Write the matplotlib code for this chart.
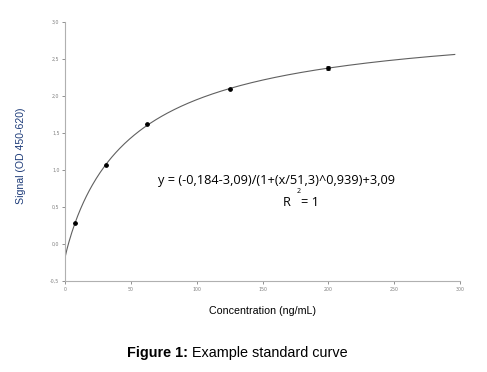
import numpy as np
import matplotlib.pyplot as plt
from matplotlib.ticker import FuncFormatter

# standards
conc = [7.8, 31.25, 62.5, 125, 200]
signal = [0.28, 1.07, 1.62, 2.09, 2.38]
signal_err = [0.0, 0.0, 0.0, 0.0, 0.03]

# 4PL fit parameters (from the equation on the chart)
a, d, c, b = -0.184, 3.09, 51.3, 0.939

xticks = [0, 50, 100, 150, 200, 250, 300]
yticks = [-0.5, 0.0, 0.5, 1.0, 1.5, 2.0, 2.5, 3.0]

fig = plt.figure(figsize=(4.87, 3.72), dpi=100)
ax = fig.add_axes([0.1335, 0.2446, 0.8111, 0.6964])

xc = np.linspace(0, 296, 400)
yc = (a - d) / (1 + (xc / c) ** b) + d
ax.plot(xc, yc, color='#606060', lw=0.8)
ax.errorbar(conc, signal, yerr=signal_err, fmt='o', ms=2.4, color='black',
            ecolor='#404040', elinewidth=0.6, capsize=1.3, capthick=0.6)

ax.set_xlim(0, 300)
ax.set_ylim(-0.5, 3.0)
ax.set_xticks(xticks)
ax.set_yticks(yticks)
ax.yaxis.set_major_formatter(FuncFormatter(lambda v, p: f'{v:.1f}'.replace('.', ',')))
ax.tick_params(labelsize=3.4, colors='#808080', length=2, width=0.6, pad=2)
for s in ['top', 'right']:
    ax.spines[s].set_visible(False)
for s in ['left', 'bottom']:
    ax.spines[s].set_color('#b0b0b0')
    ax.spines[s].set_linewidth(0.8)

# fit equation
eq_font = dict(fontsize=9.2, family='Open Sans', va='center', ha='left', transform=ax.transAxes)
ax.text(0.235, 0.389, 'y = (-0,184-3,09)/(1+(x/51,3)^0,939)+3,09', **eq_font)
ax.text(0.55, 0.302, 'R', **eq_font)
ax.text(0.586, 0.347, '2', fontsize=5, family='Open Sans', va='center', ha='left',
        transform=ax.transAxes)
ax.text(0.598, 0.302, '= 1', **eq_font)

fig.text(0.043, 0.581, 'Signal (OD 450-620)', rotation=90, fontsize=7.6,
         color='#1f3d7a', ha='center', va='center', family='Liberation Sans')
fig.text(0.54, 0.163, 'Concentration (ng/mL)', fontsize=7.7, ha='center', va='center',
         family='Liberation Sans')
t1 = fig.text(127 / 487, 0.051, 'Figure 1:', fontsize=10.4, fontweight='bold',
              ha='left', va='center', family='Liberation Sans')
ax.annotate(' Example standard curve', xy=(1, 0.5), xycoords=t1, va='center', ha='left',
            fontsize=10.4, family='Liberation Sans', annotation_clip=False)

fig.savefig('out.png', dpi=100)
